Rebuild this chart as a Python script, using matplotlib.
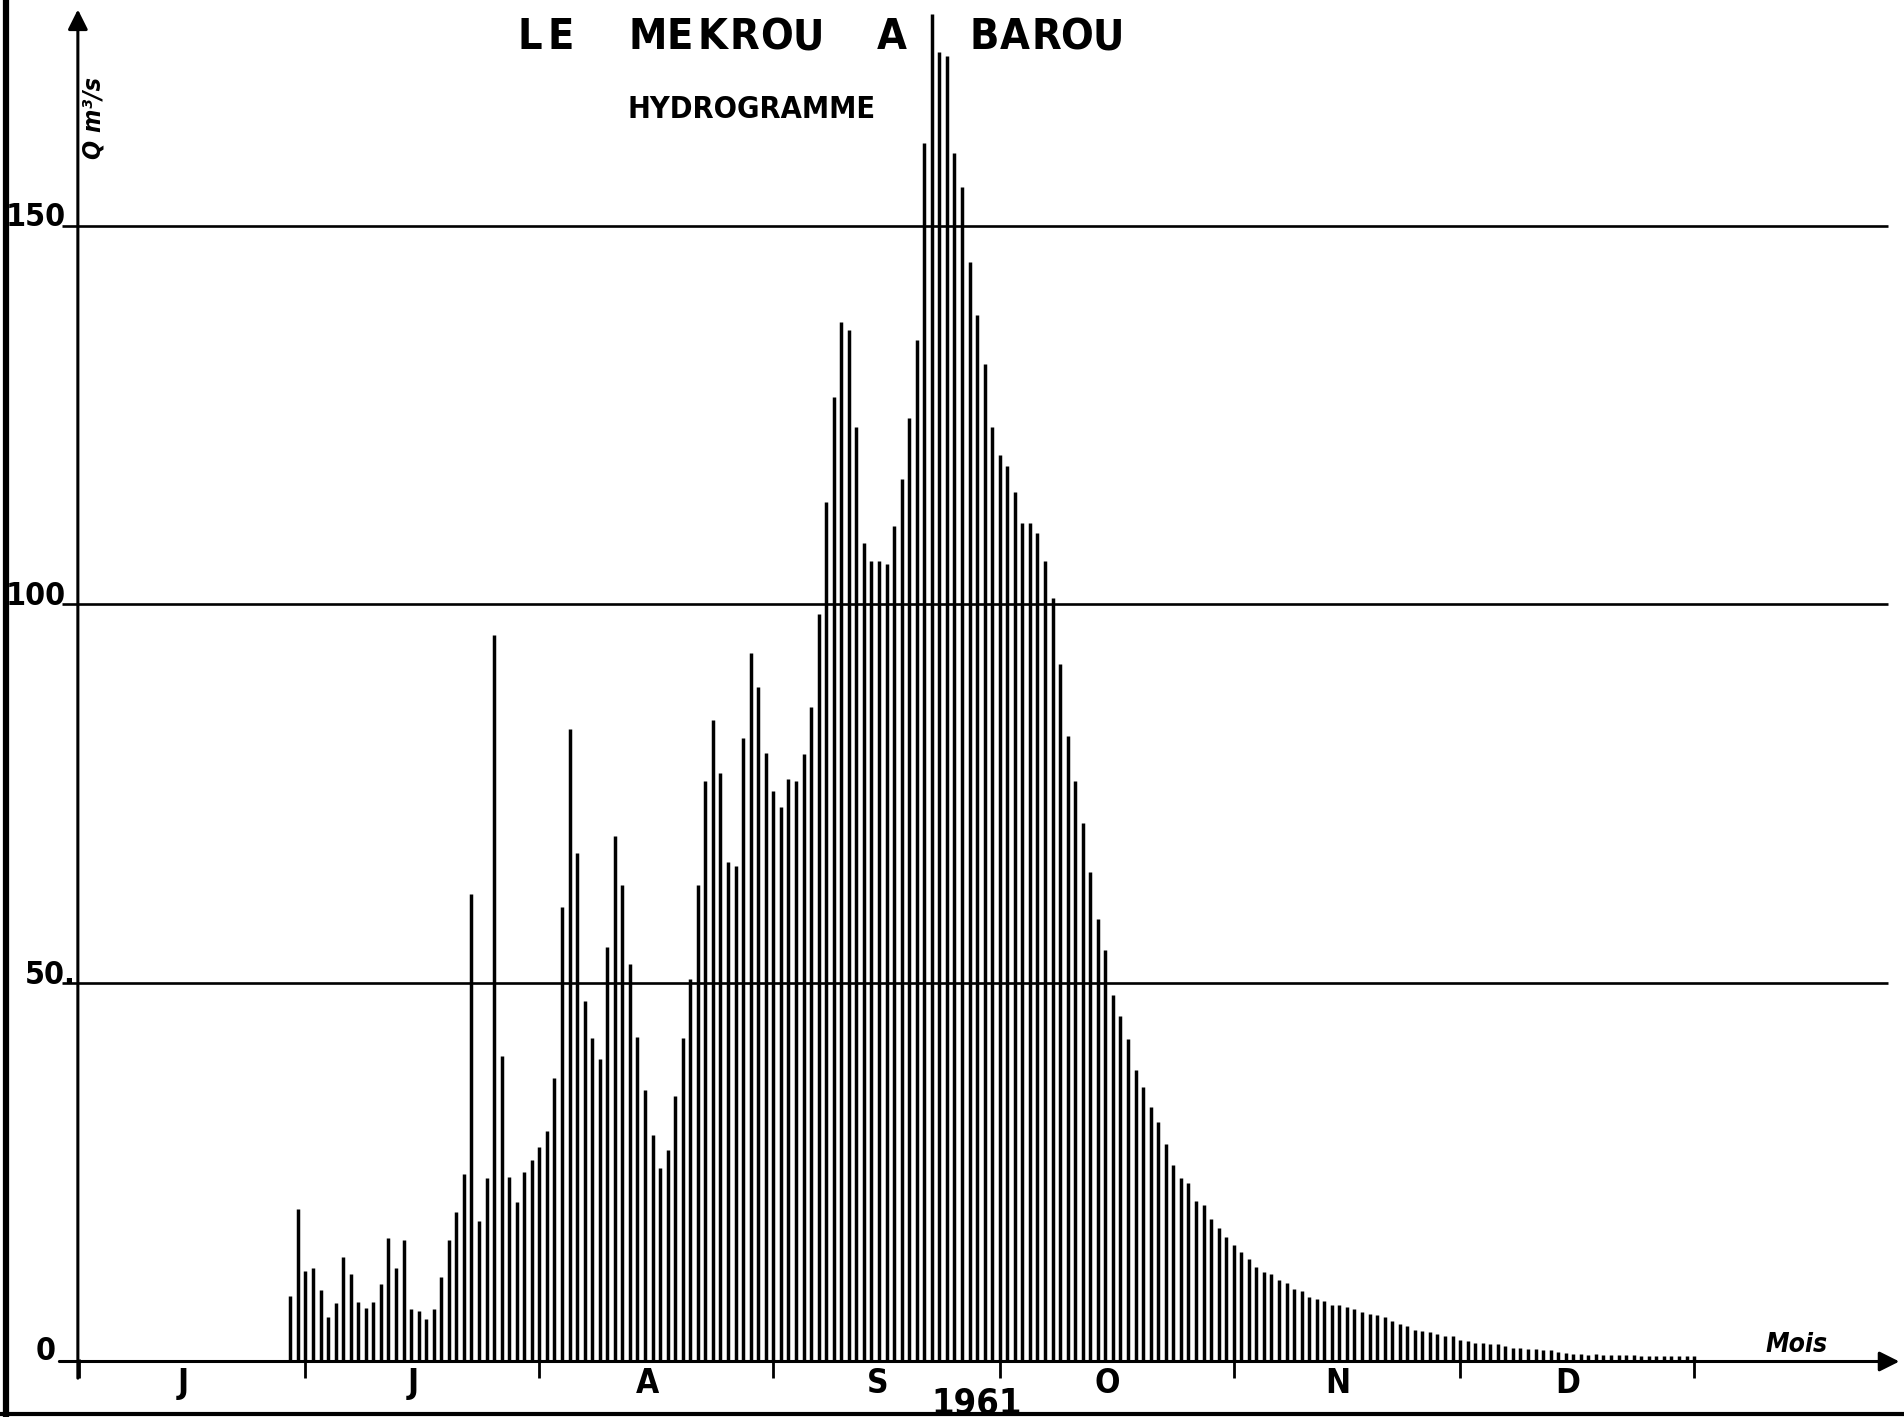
import matplotlib
matplotlib.use("Agg")
import matplotlib.pyplot as plt
import numpy as np

# Débits moyens journaliers de la Mékrou à Barou, 1961 (m3/s)
juin = [8.6, 20.2, 12.0]  # 28 au 30 juin
juillet = [12.4, 9.4, 5.9, 7.7, 13.8, 11.6, 7.9, 7.1, 7.8, 10.2, 16.3, 12.4,
           16.0, 6.9, 6.7, 5.6, 6.9, 11.1, 16.1, 19.8, 24.8, 61.7, 18.5, 24.2,
           96.0, 40.4, 24.4, 21.1, 25.0, 26.6, 28.4]
aout = [30.5, 37.5, 60.0, 83.5, 67.2, 47.6, 42.7, 39.9, 54.7, 69.4, 63.0,
        52.5, 42.9, 35.8, 29.9, 25.6, 27.9, 35.1, 42.7, 50.5, 63.0, 76.7,
        84.8, 77.8, 66.0, 65.4, 82.3, 93.6, 89.1, 80.4, 75.3]
septembre = [73.3, 77.0, 76.7, 80.3, 86.5, 98.8, 113.5, 127.4, 137.3, 136.2,
             123.5, 108.1, 105.8, 105.7, 105.3, 110.4, 116.6, 124.7, 135.0,
             161.0, 178.0, 173.0, 172.5, 159.6, 155.2, 145.3, 138.3, 131.8,
             123.5, 119.8]
octobre = [118.3, 114.9, 110.8, 110.8, 109.4, 105.8, 100.8, 92.2, 82.6, 76.7,
           71.1, 64.6, 58.4, 54.3, 48.4, 45.6, 42.6, 38.5, 36.3, 33.6, 31.6,
           28.7, 26.0, 24.3, 23.6, 21.2, 20.7, 18.8, 17.7, 16.4, 15.4]
novembre = [14.5, 13.5, 12.5, 11.8, 11.6, 10.8, 10.4, 9.6, 9.3, 8.5, 8.3, 8.0,
            7.5, 7.5, 7.2, 7.0, 6.5, 6.3, 6.2, 5.9, 5.4, 5.0, 4.7, 4.2, 4.0,
            3.9, 3.6, 3.4, 3.4, 2.8]
decembre = [2.7, 2.5, 2.5, 2.3, 2.3, 2.0, 1.8, 1.8, 1.6, 1.6, 1.5, 1.5, 1.2,
            1.1, 1.0, 1.0, 0.9, 1.0, 0.9, 0.9, 0.8, 0.8, 0.8, 0.7, 0.7, 0.7,
            0.7, 0.7, 0.7, 0.7, 0.7]

mois = ["J", "J", "A", "S", "O", "N", "D"]
jours_par_mois = [30, 31, 31, 30, 31, 30, 31]
premiers_jours = [28, 1, 1, 1, 1, 1, 1]
graduations_q = [50, 100, 150]
etiquettes_q = ["50.", "100", "150"]
annee = "1961"

series = [juin, juillet, aout, septembre, octobre, novembre, decembre]

# Position de chaque jour sur l'axe du temps (en jours depuis le 1er juin)
debut_mois = np.concatenate([[0], np.cumsum(jours_par_mois)])
x_jours, q_jours = [], []
for m, valeurs in enumerate(series):
    for i, q in enumerate(valeurs):
        x_jours.append(debut_mois[m] + premiers_jours[m] + i)
        q_jours.append(q)
x_jours = np.array(x_jours)
q_jours = np.array(q_jours)

W, H = 1904, 1417
fig = plt.figure(figsize=(W / 100, H / 100), dpi=100)
fig.patch.set_facecolor("white")
ax = fig.add_axes([0, 0, 1, 1])
ax.axis("off")

# échelle : 7.547 px par jour, 7.57 px par m3/s
ox, sx = 79.0, 7.547
oy, sy = 1361.5, 7.57
ax.set_xlim(-ox / sx, (W - ox) / sx)
ax.set_ylim((oy - H) / sy, oy / sy)

police = dict(family=["DejaVu Sans"], fontstretch="condensed")


def ftxt(px, py, s, **kw):
    """Texte placé en pixels (origine en haut à gauche)."""
    return fig.text(px / W, 1 - py / H, s, **kw)


# Bâtonnets journaliers
ax.vlines(x_jours, 0, q_jours, colors="black", linewidth=2.5, capstyle="butt")

# Lignes horizontales de débit (avec un petit départ à gauche de l'axe)
x_axe = -0.15
x_depart = -2.3
x_fin = 239.7
ax.hlines(graduations_q, x_depart, x_fin, colors="black", linewidth=1.9)

# Axes fléchés
fl = dict(arrowstyle="-|>", color="black", lw=2.2, mutation_scale=30,
          shrinkA=0, shrinkB=0)
ax.annotate("", xy=(241.2, 0), xytext=(x_depart - 0.3, 0), arrowprops=fl)
ax.annotate("", xy=(x_axe, 178.6), xytext=(x_axe, -2.2), arrowprops=fl)

# Graduations des mois
ax.vlines(debut_mois, -2.2, 0.3, colors="black", linewidth=2.0)
for m, lab in enumerate(mois):
    xm = (debut_mois[m] + debut_mois[m + 1]) / 2 - 1.2
    ax.text(xm, -2.9, lab, ha="center", va="center", fontsize=24,
            fontweight="bold", **police)

# Étiquettes de l'axe des débits
ftxt(46, 1351, "0", ha="center", va="center", fontsize=23,
     fontweight="bold", **police)
for q, lab in zip(graduations_q, etiquettes_q):
    py = oy - q * sy - 8
    px = 50 if q == 50 else 36
    ftxt(px, py, lab, ha="center", va="center", fontsize=23,
         fontweight="bold", **police)

# Titre, lettres espacées
def mot(x_premier, pas, py, texte, **kw):
    for i, ch in enumerate(texte):
        ftxt(x_premier + i * pas, py, ch, ha="center", va="center", **kw)


style_titre = dict(fontsize=31, fontweight="bold", **police)
mot(530, 31, 37, "LE", **style_titre)
mot(648, 32, 37, "MEKROU", **style_titre)
mot(892, 31, 37, "A", **style_titre)
mot(984, 31, 37, "BAROU", **style_titre)

ftxt(752, 109, "HYDROGRAMME", ha="center", va="center", fontsize=22,
     fontweight="bold", **police)

ftxt(93, 118, "Q m³/s", ha="center", va="center", rotation=90, fontsize=18,
     fontweight="bold", style="italic", **police)
ftxt(1797, 1345, "Mois", ha="center", va="center", fontsize=19,
     fontweight="bold", style="italic", **police)
ftxt(977, 1403, annee, ha="center", va="center", fontsize=26,
     fontweight="bold", **police)

# Bords de la feuille
fig.add_artist(plt.Line2D([6 / W, 6 / W], [0, 1], color="black", lw=4.5))
fig.add_artist(plt.Line2D([0, 1], [1 - 1414 / H, 1 - 1414 / H],
                          color="black", lw=3))

fig.savefig("out.png", dpi=100, facecolor="white")
